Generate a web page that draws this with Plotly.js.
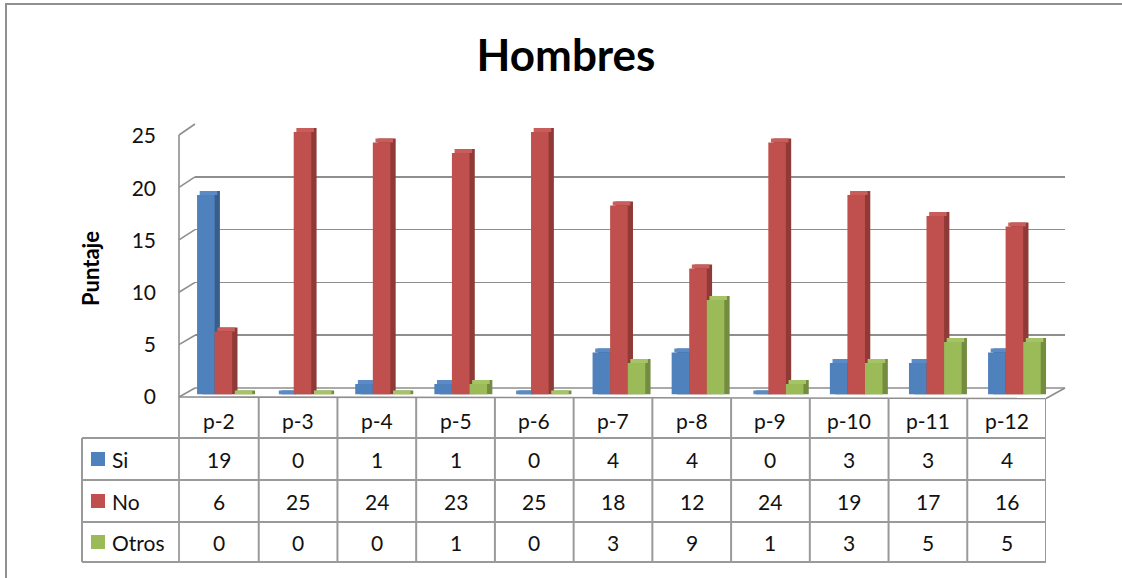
<!DOCTYPE html>
<html>
<head>
<meta charset="utf-8">
<script src="https://cdn.plot.ly/plotly-3.0.1.min.js"></script>
<style>
  html, body { margin: 0; padding: 0; background: #fff; }
  #chart { width: 1122px; height: 578px; }
</style>
</head>
<body>
<div id="chart"></div>
<script>
// ---- data ----
const categories = ['p-2','p-3','p-4','p-5','p-6','p-7','p-8','p-9','p-10','p-11','p-12'];
const seriesNames = ['Si','No','Otros'];
const si    = [19, 0, 1, 1, 0, 4, 4, 0, 3, 3, 4];
const no    = [6, 25, 24, 23, 25, 18, 12, 24, 19, 17, 16];
const otros = [0, 0, 0, 1, 0, 3, 9, 1, 3, 5, 5];
const yTicks = [0, 5, 10, 15, 20, 25];
const chartTitle = 'Hombres';
const yTitle = 'Puntaje';

// ---- style ----
const W = 1122, H = 578;
const px = v => v / W;
const py = v => 1 - v / H;
const FONT = 'Lato, "Open Sans", sans-serif';
const frontCol = ['#4F81BD', '#C0504D', '#9BBB59'];
const topCol   = ['#5A8BC6', '#C95D5A', '#A5C466'];
const sideCol  = ['#395E8C', '#8F3A37', '#738C40'];
const gridCol = '#8e8e8e';
const tableCol = '#9a9a9a';
const seriesVals = [si, no, otros];

const BW = 0.222;   // bar width (category units)
const DX = 0.067;   // depth offset, x (category units)
const DY = 0.38;    // depth offset, y (value units)

const traces = [];
// back wall subplot (gridlines)
traces.push({type: 'scatter', x: [0], y: [0], xaxis: 'x', yaxis: 'y', mode: 'none',
             hoverinfo: 'skip', showlegend: false});
// 3D-ish bars
seriesVals.forEach((vals, k) => {
  const o = (k - 1.5) * BW;
  traces.push({type: 'bar', x: categories, y: vals.map(v => v + DY), base: 0,
    offset: o + DX, width: BW, xaxis: 'x2', yaxis: 'y2',
    marker: {color: sideCol[k], line: {width: 0}}, hoverinfo: 'skip', showlegend: false});
  traces.push({type: 'bar', x: categories, y: vals.map(() => DY), base: vals,
    offset: o + DX / 2, width: BW, xaxis: 'x2', yaxis: 'y2',
    marker: {color: topCol[k], line: {width: 0}}, hoverinfo: 'skip', showlegend: false});
  traces.push({type: 'bar', x: categories, y: vals, name: seriesNames[k],
    offset: o, width: BW, xaxis: 'x2', yaxis: 'y2',
    marker: {color: frontCol[k], line: {width: 0}}, showlegend: false});
});
// table / label subplot
traces.push({type: 'scatter', x: categories, y: si, xaxis: 'x3', yaxis: 'y3', mode: 'none',
             hoverinfo: 'skip', showlegend: false});

// ---- geometry helpers (decoration) ----
const frontY = v => 397 - v * (262 / 25);
const backY  = v => 388 - v * (264 / 25);

const shapes = [];
const line = (x0, y0, x1, y1, color, width, layer) => shapes.push({
  type: 'line', xref: 'paper', yref: 'paper', x0: px(x0), y0: py(y0), x1: px(x1), y1: py(y1),
  line: {color: color, width: width}, layer: layer || 'above'});

// outer frame (top & left)
line(5, 4, 1122, 4, '#909090', 2);
line(6, 4, 6, 578, '#909090', 2);

// left wall: front edge and slanted ticks
line(179, frontY(25), 179, 562, gridCol, 1.6, 'below');
yTicks.forEach(v => line(179, frontY(v), 195, backY(v), gridCol, 1.6, 'below'));
// floor
line(179, frontY(0), 1046, 398.5, gridCol, 1.6, 'below');
line(1046, 398.5, 1065, backY(0), gridCol, 1.6, 'below');
line(195, backY(0), 1065, backY(0), gridCol, 1.6, 'below');

// table lines
const rowLines = [438, 480, 522, 562];
rowLines.forEach(y => line(82, y, 1046, y, tableCol, 2));
line(82, 438, 82, 562, tableCol, 2);
categories.forEach((c, i) => shapes.push({
  type: 'line', xref: 'x3', yref: 'paper', x0: i + 0.5, x1: i + 0.5, y0: py(398), y1: py(562),
  line: {color: tableCol, width: 2}}));

// legend squares
const rowCenters = [459, 501, 542];
seriesNames.forEach((n, k) => shapes.push({
  type: 'rect', xref: 'paper', yref: 'paper',
  x0: px(91), x1: px(105), y0: py(rowCenters[k] - 7), y1: py(rowCenters[k] + 7),
  fillcolor: frontCol[k], line: {width: 0}}));

// ---- annotations ----
const annotations = [];
const tFont = {family: FONT, size: 21, color: '#111'};
categories.forEach((c, i) => annotations.push({
  xref: 'x3', yref: 'paper', x: c, y: py(421), text: c, showarrow: false,
  xanchor: 'center', yanchor: 'middle', font: tFont}));
seriesVals.forEach((vals, k) => {
  vals.forEach((v, i) => annotations.push({
    xref: 'x3', yref: 'paper', x: categories[i], y: py(rowCenters[k]), text: String(v),
    showarrow: false, xanchor: 'center', yanchor: 'middle', font: tFont}));
  annotations.push({xref: 'paper', yref: 'paper', x: px(110), y: py(rowCenters[k]),
    text: seriesNames[k], showarrow: false, xanchor: 'left', yanchor: 'middle', font: tFont});
});
annotations.push({xref: 'paper', yref: 'paper', x: px(90), y: py(269), text: '<b>' + yTitle + '</b>',
  textangle: -90, showarrow: false, xanchor: 'center', yanchor: 'middle',
  font: {family: FONT, size: 22, color: '#000'}});

const layout = {
  width: W, height: H,
  margin: {l: 0, r: 0, t: 0, b: 0, pad: 0},
  paper_bgcolor: '#fff', plot_bgcolor: 'rgba(0,0,0,0)',
  showlegend: false,
  barmode: 'overlay',
  title: {text: '<b>' + chartTitle + '</b>', x: px(566), xanchor: 'center',
          y: py(56), yanchor: 'middle', font: {family: FONT, size: 44, color: '#000'}},
  // back wall
  xaxis: {domain: [px(195), px(1065)], range: [0, 1], visible: false, fixedrange: true},
  yaxis: {domain: [py(388), py(124)], range: [-0.01, 25.01], anchor: 'x',
          tickvals: yTicks, showgrid: true, gridcolor: gridCol, gridwidth: 1.6,
          zeroline: false, showticklabels: false, ticks: '', showline: false, fixedrange: true},
  // bars
  xaxis2: {domain: [px(183.85), px(1053.95)], type: 'category', range: [-0.5, 10.5],
           anchor: 'y2', visible: false, fixedrange: true},
  yaxis2: {domain: [py(394.5), py(79.5)], range: [0, 30], anchor: 'x2', visible: false, fixedrange: true},
  // table / tick labels
  xaxis3: {domain: [px(180), px(1046)], type: 'category', range: [-0.5, 10.5],
           anchor: 'y3', visible: false, fixedrange: true},
  yaxis3: {domain: [py(397), py(136)], range: [0, 25], anchor: 'free', position: px(156),
           tickvals: yTicks, ticks: '', showgrid: false, zeroline: false, showline: false,
           tickfont: {family: FONT, size: 21, color: '#111'}, fixedrange: true},
  shapes: shapes,
  annotations: annotations
};

Plotly.newPlot('chart', traces, layout, {displayModeBar: false, staticPlot: true});
</script>
</body>
</html>
